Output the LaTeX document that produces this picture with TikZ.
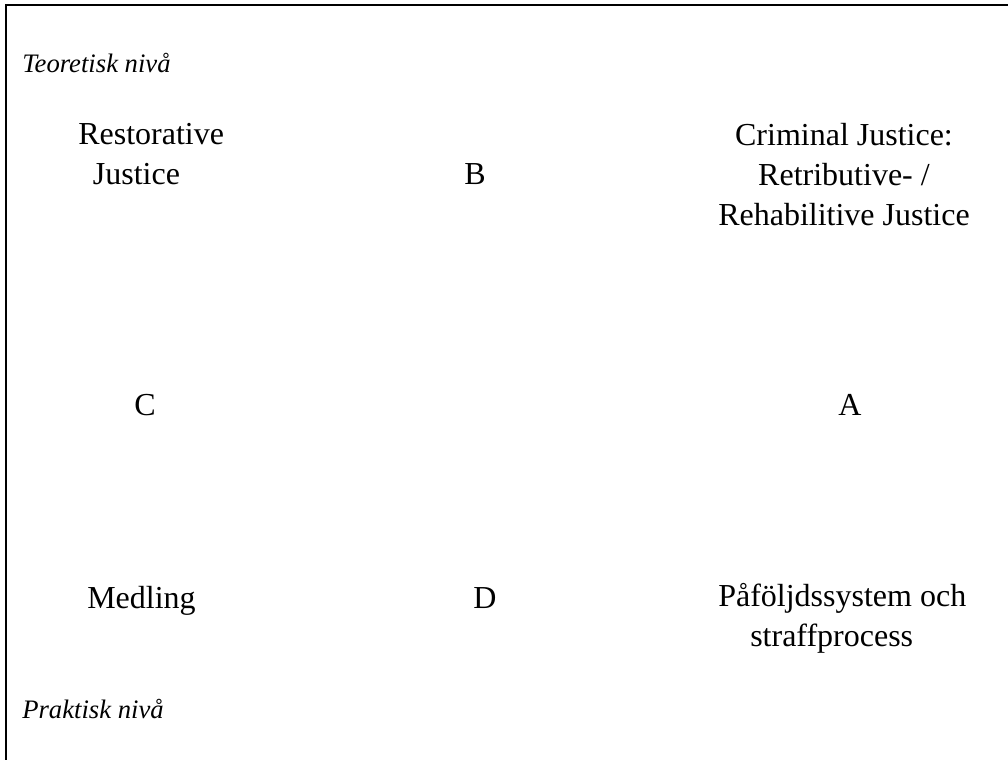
\documentclass[tikz,border=0pt]{standalone}
\usepackage{fontspec}
\setmainfont{Liberation Serif}
\usepackage{tikz}

\begin{document}
\begin{tikzpicture}[x=0.75pt,y=-0.75pt,
		lbl/.style={inner sep=0pt,font=\fontsize{24}{30}\selectfont},
		niva/.style={inner sep=0pt,anchor=base west,font=\fontsize{20}{24}\selectfont\itshape}]
			\useasboundingbox (0,0) rectangle (1008,760);
			\draw[line width=1.5pt] (6,760) -- (6,5) -- (1008,5);
			\node[niva] (teo) at (22,72) {Teoretisk nivå};
			\node[niva] (prak) at (22,718) {Praktisk nivå};
			% base of a multi-line node is its last line
			\node[lbl,anchor=base west,align=left] (rj) at (78,184)
			{Restorative\\\hspace*{11pt}Justice};
			\node[lbl,anchor=base] (b) at (475,184) {B};
			\node[lbl,anchor=base,align=center] (cj) at (844,225)
			{Criminal Justice:\\Retributive- /\\Rehabilitive Justice};
			\node[lbl,anchor=base] (c) at (145,415) {C};
			\node[lbl,anchor=base] (a) at (850,415) {A};
			\node[lbl,anchor=base west] (med) at (87,608) {Medling};
			\node[lbl,anchor=base west] (d) at (473,608) {D};
			\node[lbl,anchor=base west,align=left] (pfs) at (718,646)
			{Påföljdssystem och\\\hspace*{24pt}straffprocess};
		\end{tikzpicture}
\end{document}
